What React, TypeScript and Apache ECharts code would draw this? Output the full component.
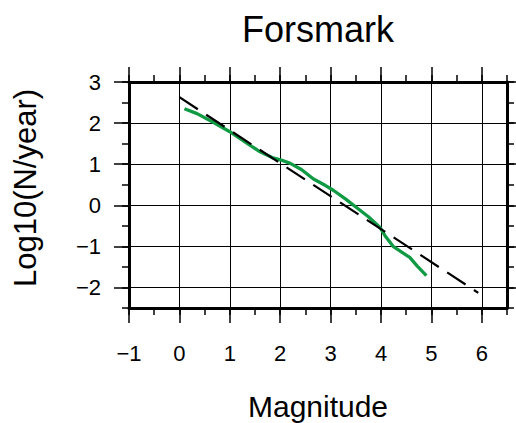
import React, { useEffect, useRef } from "react";
import * as echarts from "echarts";

// Observed cumulative rate (green curve)
const magnitudes = [0.10, 0.35, 0.67, 1.00, 1.33, 1.60, 1.84, 2.02, 2.20, 2.42, 2.66, 2.90, 3.06, 3.30, 3.52, 3.75, 3.98, 4.08, 4.24, 4.41, 4.57, 4.72, 4.90];
const log10Rate = [2.35, 2.23, 2.02, 1.79, 1.52, 1.30, 1.16, 1.10, 1.02, 0.87, 0.64, 0.48, 0.36, 0.15, -0.06, -0.28, -0.54, -0.74, -1.00, -1.14, -1.27, -1.48, -1.71];
// Gutenberg-Richter fit (dashed line)
const fitMagnitudes = [0, 5.93];
const fitLog10Rate = [2.63, -2.13];

const titleText = "Forsmark";
const xName = "Magnitude";
const yName = "Log10(N/year)";

const X_MIN = -1;
const X_MAX = 6.5;
const X_MAJOR_MAX = 6;
const Y_MIN = -2.5;
const Y_MAX = 3;
const Y_MAJOR_MIN = -2;

const FONT = "'Liberation Sans', Arial, Helvetica, sans-serif";

export default function App() {
  const ref = useRef<HTMLDivElement>(null);

  useEffect(() => {
    if (!ref.current) return;
    const chart = echarts.init(ref.current, null, { renderer: "svg" });

    const L = 129, T = 82, W = 378, H = 226;
    const pxPerX = W / (X_MAX - X_MIN);
    const pxPerY = H / (Y_MAX - Y_MIN);

    const fmt = (v: number) => String(v).replace("-", "\u2212");
    const black = "#000";

    const frameX = (position: string) => ({
      gridIndex: 0, type: "value", position, min: X_MIN, max: X_MAX, interval: 0.5,
      axisLine: { show: true, onZero: false, lineStyle: { color: black, width: 3 } },
      axisTick: { show: true, inside: false, length: 7, lineStyle: { color: black, width: 1.5 } },
      axisLabel: { show: false }, splitLine: { show: false },
    });
    const frameY = (position: string) => ({
      gridIndex: 0, type: "value", position, min: Y_MIN, max: Y_MAX, interval: 0.5,
      axisLine: { show: true, onZero: false, lineStyle: { color: black, width: 3 } },
      axisTick: { show: true, inside: false, length: 7, lineStyle: { color: black, width: 1.5 } },
      axisLabel: { show: false }, splitLine: { show: false },
    });

    chart.setOption({
      animation: false,
      backgroundColor: "#fff",
      grid: [
        { left: L, top: T, width: W, height: H },
        { left: L, top: T, width: (X_MAJOR_MAX - X_MIN) * pxPerX, height: H },
        { left: L, top: T, width: W, height: (Y_MAX - Y_MAJOR_MIN) * pxPerY },
      ],
      xAxis: [
        frameX("bottom"),
        frameX("top"),
        {
          gridIndex: 1, type: "value", position: "bottom", min: X_MIN, max: X_MAJOR_MAX, interval: 1,
          axisLine: { show: false, onZero: false },
          axisTick: { show: true, inside: false, length: 15, lineStyle: { color: black, width: 1.5 } },
          axisLabel: { show: true, margin: 34, fontSize: 22, fontFamily: FONT, color: black, formatter: fmt },
          splitLine: { show: true, lineStyle: { color: black, width: 1 } },
        },
        {
          gridIndex: 1, type: "value", position: "top", min: X_MIN, max: X_MAJOR_MAX, interval: 1,
          axisLine: { show: false, onZero: false },
          axisTick: { show: true, inside: false, length: 15, lineStyle: { color: black, width: 1.5 } },
          axisLabel: { show: false }, splitLine: { show: false },
        },
        { gridIndex: 2, type: "value", show: false, min: X_MIN, max: X_MAX },
      ],
      yAxis: [
        frameY("left"),
        frameY("right"),
        { gridIndex: 1, type: "value", show: false, min: Y_MIN, max: Y_MAX },
        {
          gridIndex: 2, type: "value", position: "left", min: Y_MAJOR_MIN, max: Y_MAX, interval: 1,
          axisLine: { show: false, onZero: false },
          axisTick: { show: true, inside: false, length: 15, lineStyle: { color: black, width: 1.5 } },
          axisLabel: { show: true, margin: 28, fontSize: 22, fontFamily: FONT, color: black, formatter: fmt },
          splitLine: { show: true, lineStyle: { color: black, width: 1 } },
        },
        {
          gridIndex: 2, type: "value", position: "right", min: Y_MAJOR_MIN, max: Y_MAX, interval: 1,
          axisLine: { show: false, onZero: false },
          axisTick: { show: true, inside: false, length: 15, lineStyle: { color: black, width: 1.5 } },
          axisLabel: { show: false }, splitLine: { show: false },
        },
      ],
      series: [
        {
          type: "line", xAxisIndex: 0, yAxisIndex: 0, symbol: "none", z: 3,
          data: magnitudes.map((m, i) => [m, log10Rate[i]]),
          lineStyle: { color: "#109a44", width: 3.3 },
        },
        {
          type: "line", xAxisIndex: 0, yAxisIndex: 0, symbol: "none", z: 4,
          data: fitMagnitudes.map((m, i) => [m, fitLog10Rate[i]]),
          lineStyle: { color: black, width: 2.2, type: [22, 10] },
        },
      ],
      graphic: [
        { type: "text", x: 318, y: 29, style: { text: titleText, fontSize: 36, fontFamily: FONT, fill: black, align: "center", verticalAlign: "middle" } },
        { type: "text", x: 318, y: 406, style: { text: xName, fontSize: 30, fontFamily: FONT, fill: black, align: "center", verticalAlign: "middle" } },
        { type: "text", x: 25, y: 188, rotation: Math.PI / 2, style: { text: yName, fontSize: 31, fontFamily: FONT, fill: black, align: "center", verticalAlign: "middle" } },
      ],
    });

    return () => chart.dispose();
  }, []);

  return (
    <div
      ref={ref}
      style={{ position: "fixed", left: 0, top: 0, width: 516, height: 423, background: "#fff" }}
    />
  );
}
